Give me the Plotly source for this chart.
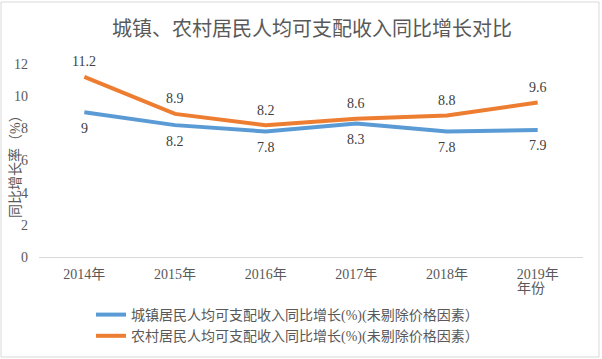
import plotly.graph_objects as go

years = ["2014年", "2015年", "2016年", "2017年", "2018年", "2019年"]
urban = [9, 8.2, 7.8, 8.3, 7.8, 7.9]
rural = [11.2, 8.9, 8.2, 8.6, 8.8, 9.6]
urban_name = "城镇居民人均可支配收入同比增长(%)(未剔除价格因素）"
rural_name = "农村居民人均可支配收入同比增长(%)(未剔除价格因素）"
y_ticks = [0, 2, 4, 6, 8, 10, 12]

W, H = 602, 359
FONT = "Liberation Serif, Noto Sans CJK SC, serif"

fig = go.Figure()
fig.add_trace(go.Scatter(
    x=years, y=urban, name=urban_name, mode="lines",
    line=dict(color="#5B9BD5", width=4),
))
fig.add_trace(go.Scatter(
    x=years, y=rural, name=rural_name, mode="lines",
    line=dict(color="#ED7D31", width=4),
))
for xs, ys, shift in ((years, urban, -16), (years, rural, 15)):
    for xv, yv in zip(xs, ys):
        fig.add_annotation(x=xv, y=yv, text=str(yv), showarrow=False,
                           yshift=shift,
                           font=dict(size=14, color="#404040", family=FONT))

x0, x1 = 39, 583
ytop, ybot = 64, 257
fig.update_layout(
    width=W, height=H,
    margin=dict(l=0, r=0, t=0, b=0, autoexpand=False),
    paper_bgcolor="white", plot_bgcolor="white",
    font=dict(family=FONT, color="#595959", size=14),
    title=dict(text="城镇、农村居民人均可支配收入同比增长对比",
               x=312 / W, xanchor="center", y=1 - 29 / H, yanchor="middle",
               font=dict(size=20, color="#595959", family=FONT)),
    xaxis=dict(domain=[x0 / W, x1 / W], range=[-0.5, 5.5], showgrid=False,
               showline=True, linecolor="#D9D9D9", linewidth=1, ticks="",
               zeroline=False, automargin=False,
               tickfont=dict(size=14, color="#595959", family=FONT),
               ticklabelstandoff=4),
    yaxis=dict(domain=[1 - ybot / H, 1 - ytop / H], range=[0, 12],
               tickvals=y_ticks, showgrid=False, zeroline=False, showline=False,
               automargin=False,
               tickfont=dict(size=14, color="#595959", family=FONT),
               ticklabelstandoff=10),
    showlegend=True,
    legend=dict(x=91 / W, y=1 - 299 / H, xanchor="left", yanchor="top",
                font=dict(size=14, color="#595959", family=FONT),
                bgcolor="rgba(0,0,0,0)", tracegroupgap=0, itemwidth=30),
)
fig.add_annotation(text="同比增长率（%）", textangle=-90, xref="paper", yref="paper",
                   x=15 / W, y=1 - 163 / H, xanchor="center", yanchor="middle",
                   showarrow=False,
                   font=dict(size=14, color="#595959", family=FONT))
fig.add_annotation(text="年份", xref="paper", yref="paper",
                   x=531 / W, y=1 - 288 / H, xanchor="center", yanchor="middle",
                   showarrow=False,
                   font=dict(size=14, color="#595959", family=FONT))
fig.add_shape(type="rect", xref="paper", yref="paper",
              x0=1 / W, x1=1 - 3 / W, y0=2 / H, y1=1 - 2 / H,
              line=dict(color="#D9D9D9", width=1))
fig.write_html("out.html", config={"displayModeBar": False},
               post_script="document.body.style.margin='0';document.body.style.overflow='hidden';")
